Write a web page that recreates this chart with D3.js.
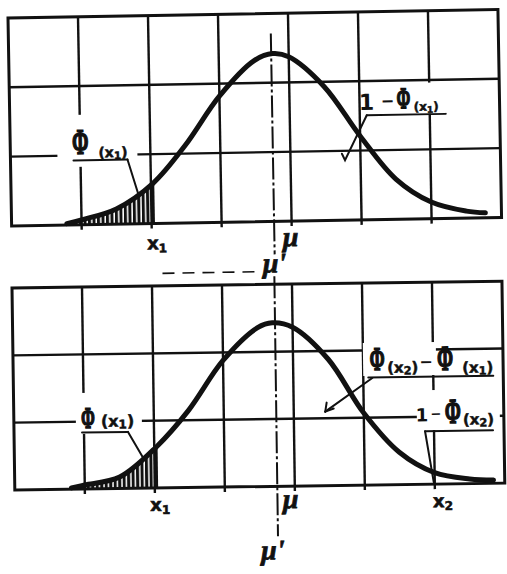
<!DOCTYPE html>
<html><head><meta charset="utf-8">
<script src="https://cdn.jsdelivr.net/npm/d3@7"></script>
<style>body{margin:0;background:#fff}</style>
</head><body>
<svg id="c" width="507" height="574"></svg>
<script>
// Grid: 7 columns by 3 rows in each panel (grid units)
const gridCols = [0, 1, 2, 3, 4, 5, 6, 7];
const gridRows = [0, 1, 2, 3];

// Upper panel: bell curve sampled at these abscissae (grid units)
const topX = [0.79, 1.0, 1.5, 2.03, 2.5, 3.0, 3.5, 3.77, 4.0, 4.5, 5.0, 5.5, 6.0, 6.5, 6.77];
const topY = [0.02, 0.07, 0.22, 0.58, 1.12, 1.82, 2.32, 2.42, 2.37, 1.93, 1.21, 0.58, 0.24, 0.10, 0.07];

// Lower panel
const botX = [0.81, 1.0, 1.5, 2.03, 2.5, 3.0, 3.5, 3.71, 4.0, 4.5, 5.0, 5.5, 6.0, 6.5, 6.84];
const botY = [0.02, 0.06, 0.17, 0.61, 1.15, 1.88, 2.36, 2.43, 2.36, 1.88, 1.07, 0.48, 0.17, 0.07, 0.05];

// Reference abscissae
const x1 = 2.03, x2 = 6.0, mu = 4.0, muPrime = 3.75;

const INK = "#111";
const svg = d3.select("#c");
const W = 490;

const defs = svg.append("defs");
defs.append("pattern").attr("id", "hatch").attr("patternUnits", "userSpaceOnUse")
  .attr("width", 4.5).attr("height", 10)
  .append("rect").attr("width", 3).attr("height", 10).attr("fill", INK);

function drawPanel(p) {
  const g = svg.append("g").attr("transform", `translate(${p.tx},${p.ty}) rotate(${p.rot})`);
  const x = d3.scaleLinear().domain([0, 7]).range([0, W]);
  const y = d3.scaleLinear().domain([0, 3]).range([p.h, 0]);

  // interior grid lines, verticals poke slightly below the frame
  g.selectAll(".gv").data(gridCols.slice(1, -1)).join("line")
    .attr("x1", d => x(d)).attr("x2", d => x(d))
    .attr("y1", y(3)).attr("y2", y(0) + 5)
    .attr("stroke", INK).attr("stroke-width", 2.4);
  g.selectAll(".gh").data(gridRows.slice(1, -1)).join("line")
    .attr("x1", x(0)).attr("x2", x(7))
    .attr("y1", d => y(d)).attr("y2", d => y(d))
    .attr("stroke", INK).attr("stroke-width", 2.4);

  // white patches under the annotations
  p.boxes.forEach(b => g.append("rect").attr("x", b[0]).attr("y", b[1])
    .attr("width", b[2]).attr("height", b[3]).attr("fill", "#fff"));

  const pts = p.cx.map((d, i) => [d, p.cy[i]]);
  const tail = pts.filter(d => d[0] <= x1 + 1e-9);

  // hatched lower tail up to x1
  g.append("path").datum(tail)
    .attr("d", d3.area().x(d => x(d[0])).y0(y(0)).y1(d => y(d[1])).curve(d3.curveCatmullRom))
    .attr("fill", "url(#hatch)");
  g.append("line").attr("x1", x(x1)).attr("x2", x(x1))
    .attr("y1", y(0)).attr("y2", y(p.cy[p.cx.indexOf(x1)]))
    .attr("stroke", INK).attr("stroke-width", 2.5);

  // frame
  g.append("rect").attr("x", 0).attr("y", 0).attr("width", W).attr("height", p.h)
    .attr("fill", "none").attr("stroke", INK).attr("stroke-width", 3);

  // curve
  g.append("path").datum(pts)
    .attr("d", d3.line().x(d => x(d[0])).y(d => y(d[1])).curve(d3.curveCatmullRom))
    .attr("fill", "none").attr("stroke", INK).attr("stroke-width", 5)
    .attr("stroke-linecap", "round").attr("stroke-linejoin", "round");

  // dash-dot line through the peak
  g.append("line").attr("x1", x(muPrime)).attr("x2", x(muPrime))
    .attr("y1", p.mpFrom).attr("y2", p.mpTo)
    .attr("stroke", INK).attr("stroke-width", 2)
    .attr("stroke-dasharray", "22,3,3,3");

  return { g, x, y };
}

function line(g, pts, w) {
  g.append("path").attr("d", d3.line()(pts)).attr("fill", "none")
    .attr("stroke", INK).attr("stroke-width", w || 2).attr("stroke-linecap", "round");
}
function phi(g, u, v, size) {
  g.append("text").attr("transform", `translate(${u},${v}) scale(0.55,1)`)
    .attr("text-anchor", "middle").attr("font-family", "Liberation Serif")
    .attr("font-weight", "bold").attr("font-size", size).attr("fill", INK)
    .attr("stroke", INK).attr("stroke-width", 1.6).text("Φ");
}
function arg(g, u, v, size, sub) {
  const t = g.append("text").attr("x", u).attr("y", v).attr("font-family", "DejaVu Sans")
    .attr("font-weight", "bold").attr("font-size", size).attr("fill", INK)
    .attr("stroke", INK).attr("stroke-width", 0.5);
  t.append("tspan").text("(x");
  t.append("tspan").attr("font-size", size * 0.75).attr("dy", 2).text(sub);
  t.append("tspan").attr("dy", -2).text(")");
}
function plain(g, s, u, v, size, anchor) {
  return g.append("text").attr("x", u).attr("y", v).attr("text-anchor", anchor || "start")
    .attr("font-family", "DejaVu Sans").attr("font-weight", "bold")
    .attr("font-size", size).attr("fill", INK).text(s);
}
function xlab(g, sub, u, v) {
  const t = g.append("text").attr("x", u).attr("y", v).attr("font-family", "DejaVu Sans")
    .attr("font-weight", "bold").attr("font-size", 18).attr("fill", INK)
    .attr("stroke", INK).attr("stroke-width", 0.6);
  t.append("tspan").text("x");
  t.append("tspan").attr("font-size", 12).attr("dy", 3).text(sub);
}
function greek(g, s, u, v, size) {
  g.append("text").attr("x", u).attr("y", v).attr("font-family", "Liberation Serif")
    .attr("font-style", "italic").attr("font-weight", "bold")
    .attr("font-size", size).attr("fill", INK)
    .attr("stroke", INK).attr("stroke-width", 0.8).text(s);
}

// ---------- upper panel ----------
const A = drawPanel({
  tx: 8, ty: 18, rot: -1.0, h: 208, cx: topX, cy: topY,
  mpFrom: 20, mpTo: 241,
  boxes: [[47, 98, 80, 52], [352, 72, 88, 31]]
});
{
  const g = A.g;
  phi(g, 70, 137, 36);
  arg(g, 88, 141, 14, "1");
  line(g, [[63, 143.5], [117, 143.5]]);
  line(g, [[117, 143.5], [128, 181]]);

  plain(g, "1", 357, 98, 22, "middle");
  plain(g, "−", 378, 95, 16, "middle");
  phi(g, 394, 97, 30);
  arg(g, 404, 100, 12, "1");
  line(g, [[357, 103.5], [436, 103.5]]);
  line(g, [[357, 103.5], [334.5, 148], [331.5, 141.5]]);

  xlab(g, "1", A.x(x1) - 7, 234);
  greek(g, "μ", A.x(mu) - 9, 233, 28);
  greek(g, "μ'", A.x(muPrime) - 12, 259, 28);
  g.append("line").attr("x1", 150).attr("x2", 246).attr("y1", 258).attr("y2", 258)
    .attr("stroke", INK).attr("stroke-width", 1.6).attr("stroke-dasharray", "12,8");
}

// ---------- lower panel ----------
const B = drawPanel({
  tx: 12, ty: 288, rot: -0.8, h: 202, cx: botX, cy: botY,
  mpFrom: -8, mpTo: 252,
  boxes: [[62, 106, 66, 41], [350, 60, 73, 33], [403, 108, 83, 40]]
});
{
  const g = B.g;
  phi(g, 74, 141, 30);
  arg(g, 87, 140, 16, "1");
  line(g, [[68, 145.5], [114, 145.5]]);
  line(g, [[114, 145.5], [129, 172]]);

  phi(g, 364, 87, 33);
  arg(g, 374, 90, 15, "2");
  plain(g, "−", 413, 85, 16, "middle");
  phi(g, 432, 88, 35);
  arg(g, 449, 91, 15, "1");
  line(g, [[355, 94.5], [480, 94.5]]);
  line(g, [[359, 95], [311.5, 128]]);
  line(g, [[311.5, 128], [313, 119]]);
  line(g, [[311.5, 128], [320, 125]]);

  plain(g, "1", 408, 139, 18, "middle");
  plain(g, "−", 422, 136, 13, "middle");
  phi(g, 439, 141, 35);
  arg(g, 449, 143, 15, "2");
  line(g, [[411, 149], [479, 149]]);
  line(g, [[411, 149], [419, 200]]);

  xlab(g, "1", B.x(x1) - 7, 225);
  xlab(g, "2", B.x(x2) - 2, 225);
  greek(g, "μ", B.x(mu) - 12, 224, 28);
  greek(g, "μ'", B.x(muPrime) - 17, 275, 28);
}
</script>
</body></html>
